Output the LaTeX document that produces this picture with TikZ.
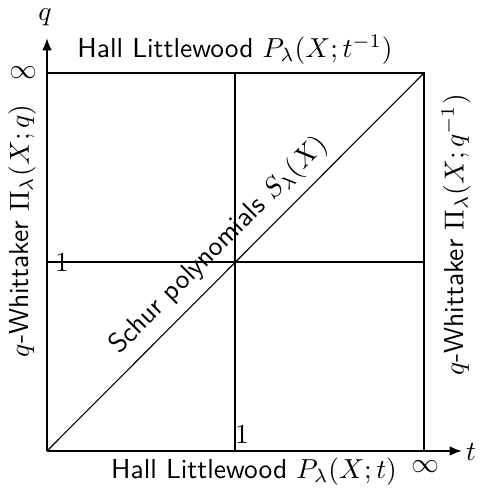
\documentclass[tikz,border=0pt]{standalone}
\usetikzlibrary{arrows.meta}
\begin{document}
\begin{tikzpicture}[x=0.364pt,y=-0.364pt,font=\sffamily,
  sq/.style={line width=0.4pt},
  diag/.style={line width=0.4pt},
  axis/.style={line width=0.8pt,-{Latex[length=4.5pt,width=3.6pt]}},
  lbl/.style={inner sep=0pt}]
\useasboundingbox (0,0) rectangle (481,488);
\coordinate (O) at (47,451);
\coordinate (TL) at (47,73);
\coordinate (TR) at (424,73);
\coordinate (BR) at (424,451);
\coordinate (MT) at (235,73);
\coordinate (MB) at (235,451);
\coordinate (ML) at (47,262);
\coordinate (MR) at (424,262);
\coordinate (XE) at (462,451);
\coordinate (YE) at (47,38);
\draw[sq] (TL) -- (TR) -- (BR);
\draw[sq] (MT) -- (MB);
\draw[sq] (ML) -- (MR);
\draw[diag] (O) -- (TR) node[midway,above,sloped] (schur) {Schur polynomials $S_\lambda(X)$};
\draw[axis] (O) -- (XE);
\draw[axis] (O) -- (YE);
\node[lbl] (qlab) at (45,17) {$q$};
\node[lbl] (tlab) at (471,452) {$t$};
\node[lbl] (infl) at (23,73) {$\infty$};
\node[lbl] (infb) at (425,467) {$\infty$};
\node[lbl] (oneb) at (242,435) {$1$};
\node[lbl] (onel) at (62,263) {$1$};
\node[lbl] (top) at (235,50) {Hall Littlewood $P_\lambda(X;t^{-1})$};
\node[lbl] (bot) at (254,472) {Hall Littlewood $P_\lambda(X;t)$};
\node[lbl,rotate=90] (left) at (22,231) {$q$-Whittaker $\Pi_\lambda(X;q)$};
\node[lbl,rotate=90] (right) at (456,235) {$q$-Whittaker $\Pi_\lambda(X;q^{-1})$};
\end{tikzpicture}
\end{document}
